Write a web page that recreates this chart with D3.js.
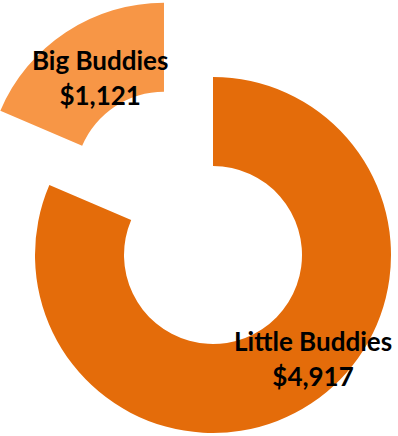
<!DOCTYPE html>
<html>
<head>
<meta charset="utf-8">
<script src="https://cdn.jsdelivr.net/npm/d3@7"></script>
<style>
  html, body { margin: 0; padding: 0; background: #fff; }
  svg { display: block; }
</style>
</head>
<body>
<svg id="chart" width="398" height="436"></svg>
<script>
// Donations by group
const categories = ["Little Buddies", "Big Buddies"];
const values = [4917, 1121];
const colors = ["#E46C0A", "#F79646"];
const exploded = [false, true];

const width = 398, height = 436;
const cx = 213, cy = 255;
const outerR = 178, innerR = 89;
const explodeDist = 89;

const svg = d3.select("#chart");
const g = svg.append("g").attr("transform", `translate(${cx},${cy})`);

const data = categories.map((c, i) => ({ name: c, value: values[i], color: colors[i], explode: exploded[i] }));

const pie = d3.pie().value(d => d.value).sort(null);
const arc = d3.arc().innerRadius(innerR).outerRadius(outerR);
const fmt = d3.format("$,");

const arcs = pie(data);

const slice = g.selectAll("g.slice").data(arcs).join("g")
  .attr("class", "slice")
  .attr("transform", d => {
    if (!d.data.explode) return null;
    const mid = (d.startAngle + d.endAngle) / 2;
    return `translate(${Math.sin(mid) * explodeDist},${-Math.cos(mid) * explodeDist})`;
  });

slice.append("path")
  .attr("d", arc)
  .attr("fill", d => d.data.color);

// Label placement: polar offsets around each slice's centre line
const labelArc = [
  { angleShift: -0.141, r: 151 },
  { angleShift: -0.017, r: 113 }
];

slice.append("text")
  .attr("text-anchor", "middle")
  .attr("font-family", "Lato, 'Open Sans', sans-serif")
  .attr("font-weight", "bold")
  .attr("font-size", 26)
  .attr("fill", "#000")
  .each(function(d, i) {
    const mid = (d.startAngle + d.endAngle) / 2 + labelArc[i].angleShift;
    const x = Math.sin(mid) * labelArc[i].r;
    const y = -Math.cos(mid) * labelArc[i].r;
    const t = d3.select(this);
    t.append("tspan").attr("x", x).attr("y", y - 17).text(d.data.name);
    t.append("tspan").attr("x", x).attr("y", y + 18).text(fmt(d.data.value));
  });
</script>
</body>
</html>
